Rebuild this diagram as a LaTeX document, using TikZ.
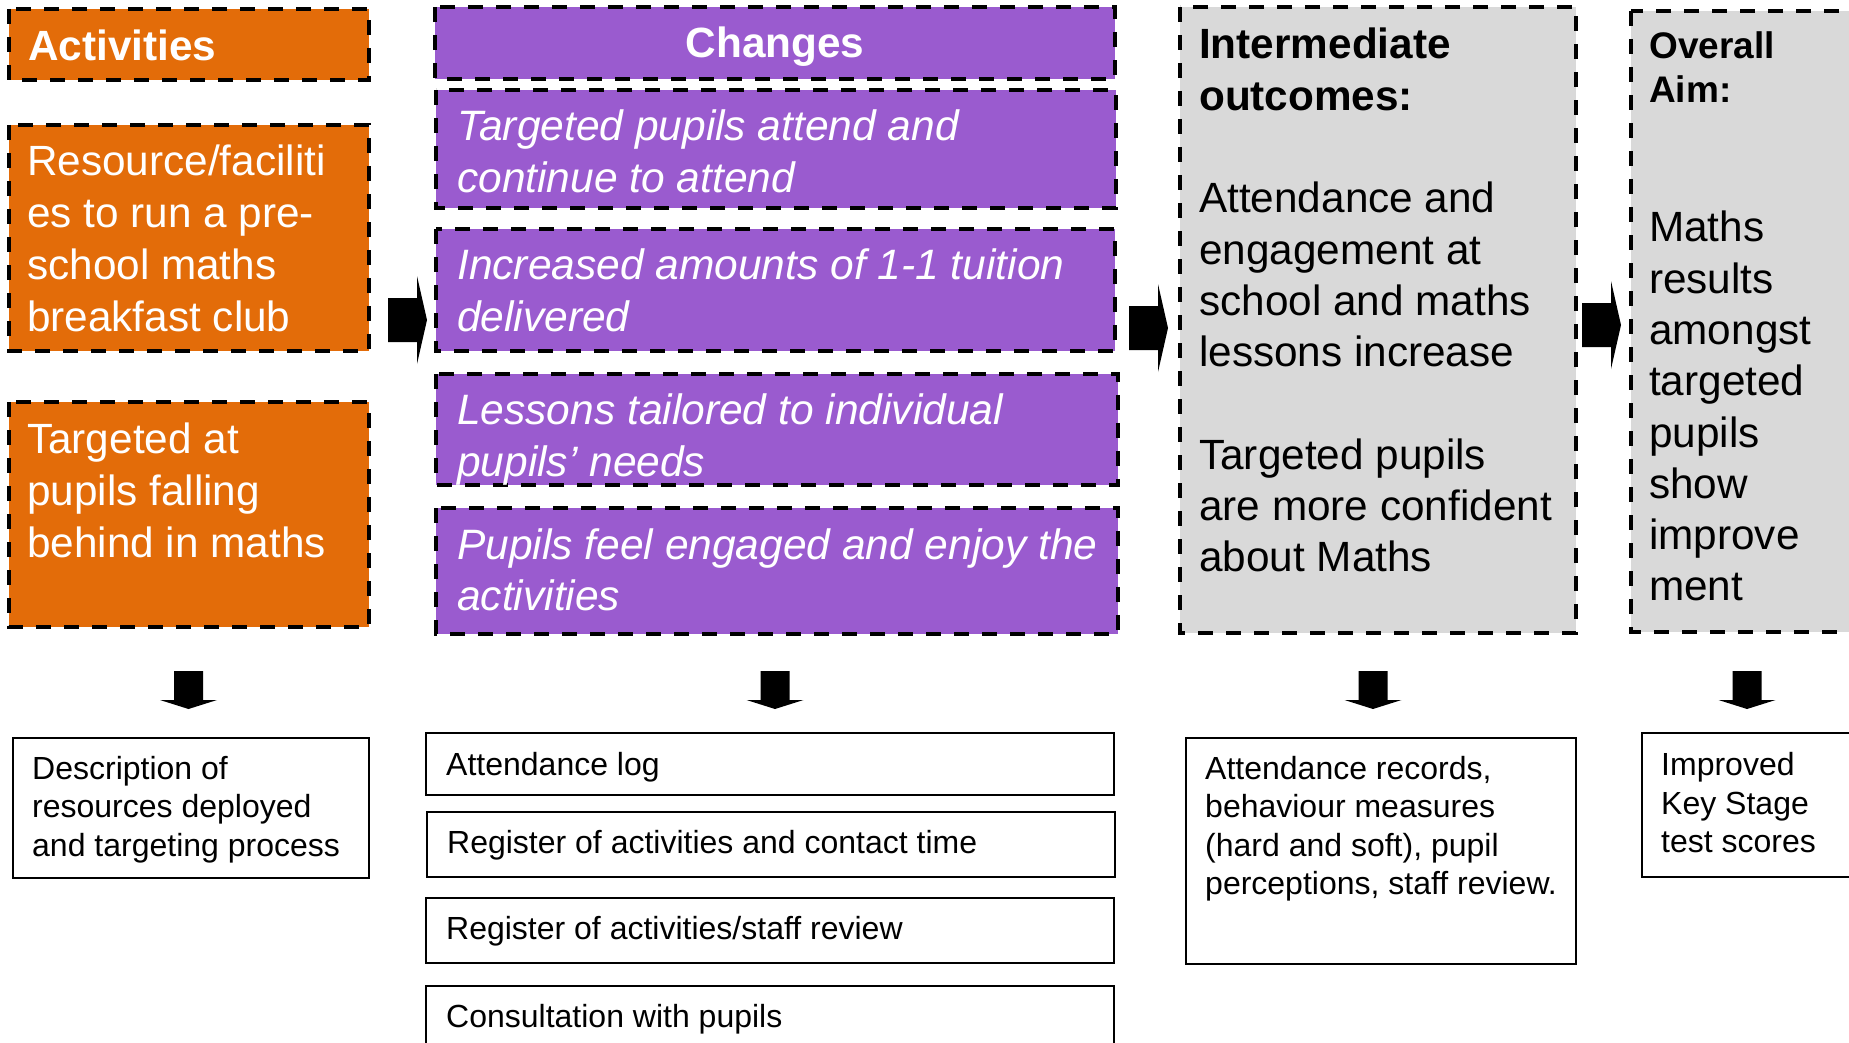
\documentclass[tikz,border=0pt]{standalone}
\usepackage{fontspec}
\setmainfont{Liberation Sans}
\usepackage{tikz}
\usetikzlibrary{positioning}

\definecolor{actorange}{HTML}{E36C09}
\definecolor{chgpurple}{HTML}{9A5BCF}
\definecolor{outgray}{HTML}{D9D9D9}

\begin{document}
\begin{tikzpicture}[x=1pt,y=-1pt,
    dbox/.style={draw=black, line width=4pt, dash pattern=on 15pt off 13pt},
    obox/.style={dbox, fill=actorange},
    pbox/.style={dbox, fill=chgpurple},
    gbox/.style={dbox, fill=outgray},
    ebox/.style={draw=black, line width=2.5pt},
    big/.style={inner sep=0pt, anchor=north west, align=left, font=\fontsize{42.3}{52}\selectfont},
    wtxt/.style={big, text=white},
    itxt/.style={big, text=white, font=\fontsize{42.5}{51.5}\selectfont\itshape},
    small/.style={inner sep=0pt, anchor=north west, align=left, font=\fontsize{32}{38.5}\selectfont},
    rarr/.pic={\fill (0,-22) -- (29,-22) -- (29,-44) -- (39,0) -- (29,44) -- (29,22) -- (0,22) -- cycle;},
    darr/.pic={\fill (-14.5,0) -- (14.5,0) -- (14.5,29) -- (28.5,29) -- (0,38) -- (-28.5,29) -- (-14.5,29) -- cycle;}]
    \useasboundingbox (0,0) rectangle (1849,1043);

    % activities
    \draw[obox] (9,9) rectangle (369,80);
    \draw[obox] (9,125) rectangle (369,351);
    \draw[obox] (9,402) rectangle (369,627);
    \node[wtxt, font=\fontsize{42.3}{52}\selectfont\bfseries] (acthead) at (28,30) {Activities};
    \node[wtxt] (actres) at (27,145) {Resource/faciliti\\es to run a pre-\\school maths\\breakfast club};
    \node[wtxt] (acttarg) at (27,423) {Targeted at\\pupils falling\\behind in maths};

    % changes
    \draw[pbox] (435,7) rectangle (1115,79);
    \draw[pbox] (436,90) rectangle (1116,208);
    \draw[pbox] (436,229) rectangle (1115,351);
    \draw[pbox] (436,374) rectangle (1118,485);
    \draw[pbox] (436,508) rectangle (1118,634);
    \node[wtxt, anchor=base, font=\fontsize{42.3}{52}\selectfont\bfseries] (chghead) at (775,58) {Changes};
    \node[itxt] (chgone) at (457,110) {Targeted pupils attend and\\continue to attend};
    \node[itxt] (chgtwo) at (457,249) {Increased amounts of 1-1 tuition\\delivered};
    \node[itxt] (chgthree) at (457,394) {Lessons tailored to individual\\pupils’ needs};
    \node[itxt] (chgfour) at (457,528) {Pupils feel engaged and enjoy the\\activities};

    % outcomes
    \draw[gbox] (1180,7) rectangle (1576,633);
    \node[big, font=\fontsize{42.3}{51.3}\selectfont] (inter) at (1199,28) {\textbf{Intermediate}\\\textbf{outcomes:}\\[51.3pt]Attendance and\\engagement at\\school and maths\\lessons increase\\[51.3pt]Targeted pupils\\are more confident\\about Maths};
    \draw[gbox] (1631,11) rectangle (1870,632);
    \node[big, font=\fontsize{37}{44}\selectfont\bfseries] (aimhead) at (1649,31) {Overall\\Aim:};
    \node[big, font=\fontsize{42.3}{51.3}\selectfont] (aim) at (1649,211) {Maths\\results\\amongst\\targeted\\pupils\\show\\improve\\ment};

    % block arrows
    \pic at (388,320) {rarr};
    \pic at (1129,328) {rarr};
    \pic at (1582,325) {rarr};
    \foreach \ax in {188.5,775,1373,1747}
      \pic at (\ax,671) {darr};

    % evidence
    \draw[ebox] (13,738) rectangle (369,878);
    \node[small] (evdesc) at (32,756) {Description of\\resources deployed\\and targeting process};
    \draw[ebox] (426,733) rectangle (1114,795);
    \draw[ebox] (427,812) rectangle (1115,877);
    \draw[ebox] (426,898) rectangle (1114,963);
    \draw[ebox] (426,986) rectangle (1114,1070);
    \node[small] (evlog) at (446,752.5) {Attendance log};
    \node[small] (evcontact) at (447,830.5) {Register of activities and contact time};
    \node[small] (evstaff) at (446,916.5) {Register of activities/staff review};
    \node[small] (evpupils) at (446,1004) {Consultation with pupils};
    \draw[ebox] (1186,738) rectangle (1576,964);
    \node[small] (evrec) at (1205,756) {Attendance records,\\behaviour measures\\(hard and soft), pupil\\perceptions, staff review.};
    \draw[ebox] (1642,733) rectangle (1870,877);
    \node[small] (evtest) at (1661,752.5) {Improved\\Key Stage\\test scores};
  \end{tikzpicture}
\end{document}
